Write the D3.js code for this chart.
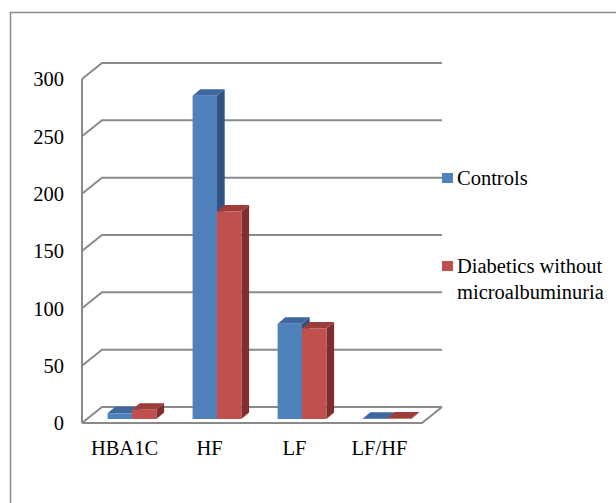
<head>
<meta charset="utf-8">
</head>
<body style="margin:0;background:#fff">
<div id="chart"></div>
<script src="https://d3js.org/d3.v7.min.js"></script>
<script>
(function() {
  "use strict";

  // data
  var categories = ["HBA1C", "HF", "LF", "LF/HF"];
  var seriesNames = ["Controls", "Diabetics without microalbuminuria"];
  var controls = [5, 282, 83, 0.3];
  var diabetics = [8, 181, 79, 0.4];
  var yTicks = [0, 50, 100, 150, 200, 250, 300];

  var W = 616, H = 503;
  var FONT = "Liberation Serif", FSIZE = 20.5;
  var front = {left: 82, right: 422, top: 79, bottom: 423};
  var depth = {dx: 20, dy: -16};      // back wall offset
  var barDepth = {dx: 7.7, dy: -6.5};  // thickness of each bar
  var barShift = {dx: 7.5, dy: -4};    // bars sit a little into the floor

  var colors = [
    {face: "#4f81bd", top: "#3d679e", side: "#2f5282"},
    {face: "#c0504d", top: "#9c3d3a", side: "#7e2f2d"}
  ];

  var svg = d3.select("#chart").append("svg")
    .attr("width", W)
    .attr("height", H);

  function label(sel) {
    return sel.attr("font-family", FONT).attr("font-size", FSIZE).attr("fill", "#000");
  }

  // outer frame (runs off the picture on the right and bottom)
  svg.append("path")
    .attr("d", "M10.5," + (H + 5) + " V12.5 H" + (W + 5))
    .attr("fill", "none")
    .attr("stroke", "#8c8c8c")
    .attr("stroke-width", 1.5);

  var x = d3.scaleBand().domain(categories).range([front.left, front.right]);
  var y = d3.scaleLinear().domain([0, 300]).range([front.bottom, front.top]);
  var xs = d3.scaleBand().domain([0, 1]).range([0, 48.8]);

  function grid(d) {
    svg.append("path")
      .attr("d", d)
      .attr("fill", "none")
      .attr("stroke", "#8a8a8a")
      .attr("stroke-width", 2);
  }

  // back wall gridlines + left wall diagonals
  yTicks.forEach(function(v) {
    grid("M" + front.left + "," + y(v) +
         " L" + (front.left + depth.dx) + "," + (y(v) + depth.dy) +
         " H" + (front.right + depth.dx));
  });
  grid("M" + front.left + "," + y(300) + " V" + front.bottom);
  // floor
  grid("M" + front.left + "," + front.bottom + " H" + front.right +
       " L" + (front.right + depth.dx) + "," + (front.bottom + depth.dy));

  // y labels
  svg.selectAll("text.ylab")
    .data(yTicks)
    .enter().append("text")
      .attr("class", "ylab")
      .attr("x", 64)
      .attr("y", function(d) { return y(d); })
      .attr("dy", "0.35em")
      .attr("text-anchor", "end")
      .call(label)
      .text(function(d) { return d; });

  // x labels
  svg.selectAll("text.xlab")
    .data(categories)
    .enter().append("text")
      .attr("class", "xlab")
      .attr("x", function(d) { return x(d) + x.bandwidth() / 2; })
      .attr("y", 455)
      .attr("text-anchor", "middle")
      .call(label)
      .text(function(d) { return d; });

  // 3d bars
  var values = [controls, diabetics];
  var off = (x.bandwidth() - 48.8) / 2;
  var bars = [];
  categories.forEach(function(c, i) {
    [0, 1].forEach(function(s) {
      bars.push({cat: c, s: s, v: values[s][i]});
    });
  });

  var g = svg.selectAll("g.bar")
    .data(bars)
    .enter().append("g")
      .attr("class", "bar");

  function geom(d) {
    var x0 = x(d.cat) + off + xs(d.s) + barShift.dx;
    var x1 = x0 + xs.bandwidth();
    var yb = y(0) + barShift.dy;
    var yt = y(d.v) + barShift.dy;
    return {x0: x0, x1: x1, yb: yb, yt: yt};
  }

  g.append("path")
    .attr("fill", function(d) { return colors[d.s].side; })
    .attr("d", function(d) {
      var q = geom(d);
      return "M" + q.x1 + "," + q.yb + " L" + (q.x1 + barDepth.dx) + "," + (q.yb + barDepth.dy) +
             " L" + (q.x1 + barDepth.dx) + "," + (q.yt + barDepth.dy) + " L" + q.x1 + "," + q.yt + "Z";
    });
  g.append("path")
    .attr("fill", function(d) { return colors[d.s].top; })
    .attr("d", function(d) {
      var q = geom(d);
      return "M" + q.x0 + "," + q.yt + " L" + (q.x0 + barDepth.dx) + "," + (q.yt + barDepth.dy) +
             " L" + (q.x1 + barDepth.dx) + "," + (q.yt + barDepth.dy) + " L" + q.x1 + "," + q.yt + "Z";
    });
  g.append("rect")
    .attr("fill", function(d) { return colors[d.s].face; })
    .attr("x", function(d) { return geom(d).x0; })
    .attr("y", function(d) { return geom(d).yt; })
    .attr("width", xs.bandwidth())
    .attr("height", function(d) { var q = geom(d); return Math.max(0, q.yb - q.yt); });

  // legend
  var legend = [
    {name: seriesNames[0], lines: ["Controls"], y: 173},
    {name: seriesNames[1], lines: ["Diabetics without", "microalbuminuria"], y: 261}
  ];
  legend.forEach(function(l, i) {
    svg.append("rect")
      .attr("x", 442).attr("y", l.y)
      .attr("width", 11).attr("height", 10)
      .attr("fill", colors[i].face);
    l.lines.forEach(function(t, j) {
      svg.append("text")
        .attr("x", 457)
        .attr("y", l.y + 12 + j * 26)
        .call(label)
        .text(t);
    });
  });
})();
</script>
</body>
